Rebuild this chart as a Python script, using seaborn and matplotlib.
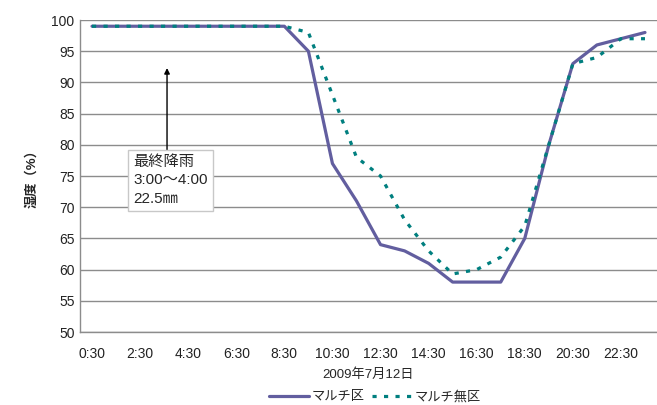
import matplotlib
matplotlib.use("Agg")
import matplotlib.pyplot as plt
import seaborn as sns
import pandas as pd

hours = [f"{h}:30" for h in range(24)]
mulch = [99, 99, 99, 99, 99, 99, 99, 99, 99, 95, 77, 71, 64, 63, 61, 58,
         58, 58, 65, 80, 93, 96, 97, 98]
no_mulch = [99, 99, 99, 99, 99, 99, 99, 99, 99, 98, 88, 78, 75, 68, 63, 59.3,
            60, 62, 67, 80, 93, 94, 97, 97]
names = ["マルチ区", "マルチ無区"]

sns.set_style("white")
plt.rcParams['font.family'] = ['Liberation Sans', 'Noto Sans CJK JP', 'DejaVu Sans']

df = pd.DataFrame({"pos": range(len(hours)), "hour": hours,
                   names[0]: mulch, names[1]: no_mulch})

fig = plt.figure(figsize=(6.57, 4.05), dpi=100)
ax = fig.add_axes([80 / 657, 1 - 332 / 405, 577 / 657, 312 / 405])

sns.lineplot(data=df, x="pos", y=names[0], ax=ax, color="#625E9F", lw=2.3,
             label=names[0])
sns.lineplot(data=df, x="pos", y=names[1], ax=ax, color="#007F7F", lw=2.3,
             linestyle=(0, (1.3, 2.3)), label=names[1])

ax.set_xlim(-0.5, len(hours) - 0.5)
ax.set_ylim(50, 100)
ax.set_yticks(range(50, 101, 5))
ax.set_xticks(range(0, len(hours), 2))
ax.set_xticklabels(hours[::2])
ax.tick_params(axis="both", length=0, labelsize=10, colors="#222222")
ax.tick_params(axis="x", pad=11)
ax.tick_params(axis="y", pad=4)
ax.grid(axis="y", color="#8c8c8c", lw=1)
ax.set_axisbelow(True)
for s in ["top", "right"]:
    ax.spines[s].set_visible(False)
for s in ["left", "bottom"]:
    ax.spines[s].set_color("#8c8c8c")
    ax.spines[s].set_linewidth(1)

ax.set_xlabel("2009年7月12日", fontsize=9.5, labelpad=5)
ax.set_ylabel("湿度（%）", fontsize=9.5, fontweight="bold", labelpad=9)

ax.annotate("", xy=(3.12, 92.3), xytext=(3.12, 79.2),
            arrowprops=dict(arrowstyle="-|>", color="black", lw=1,
                            mutation_scale=8, shrinkA=0, shrinkB=0))
ax.text(1.72, 78.4, "最終降雨\n3:00～4:00\n22.5㎜", fontsize=11, va="top",
        ha="left", linespacing=1.42,
        bbox=dict(boxstyle="square,pad=0.32", fc="white", ec="#c8c8c8", lw=1))

ax.get_legend().remove()
h, l = ax.get_legend_handles_labels()
fig.legend(h, l, loc="center", bbox_to_anchor=(375 / 657, 1 - 397 / 405),
           ncol=2, frameon=False, fontsize=9.5, handlelength=3.0,
           columnspacing=0.6, handletextpad=0.2)

fig.savefig("out.png", dpi=100)
